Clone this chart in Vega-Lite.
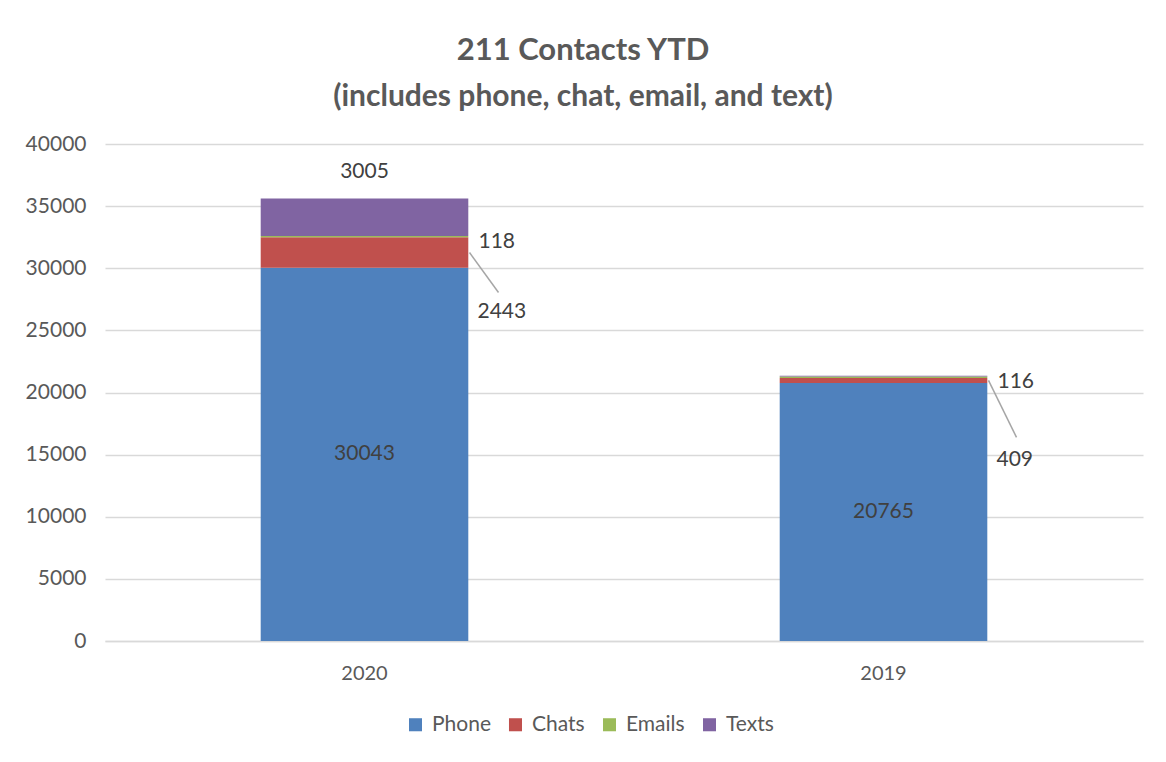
{
  "$schema": "https://vega.github.io/schema/vega-lite/v6.json",
  "width": 1038,
  "height": 497,
  "autosize": {"type": "none"},
  "padding": {"left": 105, "top": 144, "right": 23, "bottom": 121},
  "background": "white",
  "config": {
    "font": "Lato",
    "view": {"stroke": null},
    "axisY": {
      "tickCount": 8,
      "format": "d",
      "labelFontSize": 21,
      "labelColor": "#595959",
      "labelPadding": 19,
      "labelOverlap": false,
      "ticks": false,
      "domain": false,
      "gridColor": "#d9d9d9",
      "gridWidth": 1.5
    }
  },
  "title": {
    "text": "211 Contacts YTD",
    "subtitle": "(includes phone, chat, email, and text)",
    "fontSize": 31,
    "fontWeight": "bold",
    "color": "#595959",
    "subtitleFontSize": 30,
    "subtitleFontWeight": "bold",
    "subtitleColor": "#595959",
    "subtitlePadding": 15,
    "anchor": "middle",
    "dx": -41,
    "offset": 20
  },
  "data": {
    "values": [
      {"year": "2020", "series": "Phone", "rank": 1, "count": 30043},
      {"year": "2020", "series": "Chats", "rank": 2, "count": 2443},
      {"year": "2020", "series": "Emails", "rank": 3, "count": 118},
      {"year": "2020", "series": "Texts", "rank": 4, "count": 3005},
      {"year": "2019", "series": "Phone", "rank": 1, "count": 20765},
      {"year": "2019", "series": "Chats", "rank": 2, "count": 409},
      {"year": "2019", "series": "Emails", "rank": 3, "count": 116},
      {"year": "2019", "series": "Texts", "rank": 4, "count": 60}
    ]
  },
  "transform": [
    {"stack": "count", "groupby": ["year"], "sort": [{"field": "rank"}], "as": ["y0", "y1"]},
    {"calculate": "(datum.y0 + datum.y1) / 2", "as": "mid"}
  ],
  "encoding": {
    "x": {
      "field": "year",
      "type": "nominal",
      "sort": ["2020", "2019"],
      "scale": {"paddingInner": 0.6, "paddingOuter": 0.3},
      "axis": {
        "title": null,
        "labelAngle": 0,
        "labelFontSize": 20,
        "labelColor": "#595959",
        "labelPadding": 22,
        "ticks": false,
        "domainColor": "#d9d9d9",
        "domainWidth": 1.5
      }
    }
  },
  "layer": [
    {
      "mark": {"type": "bar"},
      "encoding": {
        "y": {
          "field": "y1",
          "type": "quantitative",
          "scale": {"domain": [0, 40000]},
          "axis": {"title": null}
        },
        "y2": {"field": "y0"},
        "color": {
          "field": "series",
          "type": "nominal",
          "scale": {
            "domain": ["Phone", "Chats", "Emails", "Texts"],
            "range": ["#4f81bd", "#c0504d", "#9bbb59", "#8064a2"]
          },
          "legend": {
            "title": null,
            "orient": "none",
            "direction": "horizontal",
            "legendX": 300,
            "legendY": 570,
            "symbolType": "square",
            "symbolSize": 170,
            "symbolStrokeWidth": 0,
            "labelFontSize": 21,
            "labelColor": "#595959",
            "columnPadding": 14,
            "labelOffset": 6
          }
        }
      }
    },
    {
      "transform": [{"filter": "datum.series === 'Phone'"}],
      "mark": {"type": "text", "fontSize": 21, "color": "#404040", "baseline": "middle"},
      "encoding": {
        "y": {"field": "mid", "type": "quantitative", "axis": {"title": null}},
        "text": {"field": "count", "type": "quantitative", "format": "d"}
      }
    },
    {
      "transform": [{"filter": "datum.series === 'Texts' && datum.year === '2020'"}],
      "mark": {"type": "text", "fontSize": 21, "color": "#404040", "baseline": "middle", "dy": -27},
      "encoding": {
        "y": {"field": "y1", "type": "quantitative", "axis": {"title": null}},
        "text": {"field": "count", "type": "quantitative", "format": "d"}
      }
    },
    {
      "transform": [{"filter": "datum.series === 'Emails'"}],
      "mark": {"type": "text", "fontSize": 21, "color": "#404040", "baseline": "middle", "align": "left", "dx": 114, "dy": 5},
      "encoding": {
        "y": {"field": "mid", "type": "quantitative", "axis": {"title": null}},
        "text": {"field": "count", "type": "quantitative", "format": "d"}
      }
    },
    {
      "transform": [{"filter": "datum.series === 'Chats' && datum.year === '2020'"}],
      "mark": {"type": "text", "fontSize": 21, "color": "#404040", "baseline": "middle", "align": "left", "dx": 113, "dy": 59},
      "encoding": {
        "y": {"field": "mid", "type": "quantitative", "axis": {"title": null}},
        "text": {"field": "count", "type": "quantitative", "format": "d"}
      }
    },
    {
      "transform": [{"filter": "datum.series === 'Chats' && datum.year === '2019'"}],
      "mark": {"type": "text", "fontSize": 21, "color": "#404040", "baseline": "middle", "align": "left", "dx": 113, "dy": 80},
      "encoding": {
        "y": {"field": "mid", "type": "quantitative", "axis": {"title": null}},
        "text": {"field": "count", "type": "quantitative", "format": "d"}
      }
    },
    {
      "transform": [{"filter": "datum.series === 'Chats' && datum.year === '2020'"}],
      "mark": {"type": "rule", "color": "#a6a6a6", "strokeWidth": 1.5, "xOffset": 105, "x2Offset": 134, "y2Offset": 40},
      "encoding": {
        "x2": {"field": "year"},
        "y": {"field": "mid", "type": "quantitative", "axis": {"title": null}},
        "y2": {"field": "mid"}
      }
    },
    {
      "transform": [{"filter": "datum.series === 'Chats' && datum.year === '2019'"}],
      "mark": {"type": "rule", "color": "#a6a6a6", "strokeWidth": 1.5, "xOffset": 105, "x2Offset": 133, "y2Offset": 57},
      "encoding": {
        "x2": {"field": "year"},
        "y": {"field": "mid", "type": "quantitative", "axis": {"title": null}},
        "y2": {"field": "mid"}
      }
    }
  ]
}
